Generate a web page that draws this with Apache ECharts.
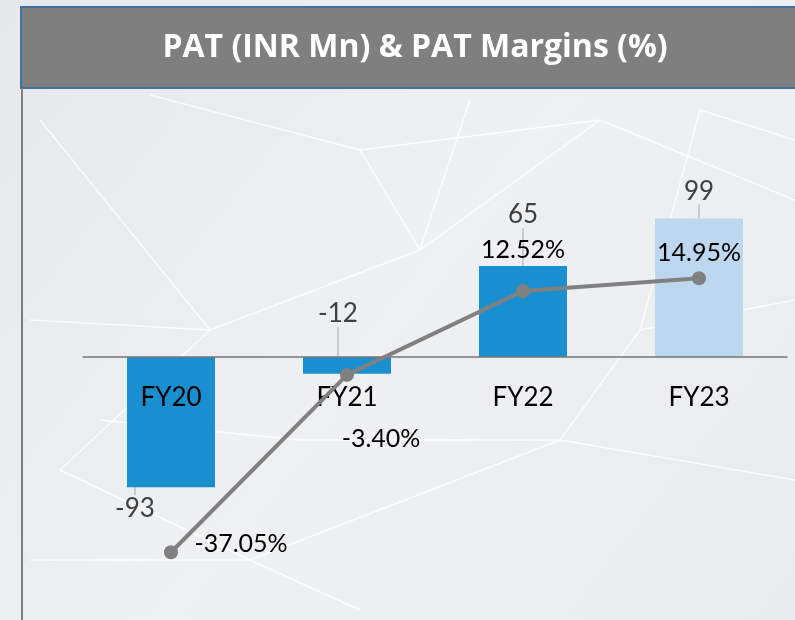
<!DOCTYPE html>
<html>
<head>
<meta charset="utf-8">
<script src="https://cdn.jsdelivr.net/npm/echarts@6/dist/echarts.min.js"></script>
<style>
  html, body { margin: 0; padding: 0; }
  #chart { width: 795px; height: 620px; }
</style>
</head>
<body>
<div id="chart"></div>
<script>
const categories = ['FY20', 'FY21', 'FY22', 'FY23']
const patValues = [-93, -12, 65, 99]
const marginValues = [-37.05, -3.40, 12.52, 14.95]

const FONT = 'Lato, "Noto Sans", sans-serif'

// label nudges (bar values / margin values)
const barLabelMove = [[-36, 8], [-9, -30], [0, -38], [0, -14]]
const lineLabelMove = [[70, -8], [34, 64], [0, -41], [0, -25]]

const chart = echarts.init(document.getElementById('chart'))

// faint network lines for the backdrop
function netLines() {
  const segs = [
    [[40, 120], [210, 330]], [[210, 330], [420, 250]], [[420, 250], [600, 120]],
    [[600, 120], [795, 200]], [[210, 330], [60, 470]], [[420, 250], [360, 150]],
    [[360, 150], [150, 95]], [[60, 470], [250, 560]], [[250, 560], [560, 440]],
    [[560, 440], [795, 480]], [[300, 440], [560, 440]], [[640, 330], [795, 300]],
    [[640, 330], [560, 440]], [[700, 110], [640, 330]], [[30, 560], [250, 560]],
    [[360, 150], [600, 120]], [[30, 320], [210, 330]], [[250, 560], [360, 610]],
    [[100, 420], [300, 440]], [[470, 100], [420, 250]], [[700, 110], [795, 140]]
  ]
  return segs.map(s => ({
    type: 'line', silent: true, z: -10,
    shape: {x1: s[0][0], y1: s[0][1], x2: s[1][0], y2: s[1][1]},
    style: {stroke: 'rgba(255,255,255,0.8)', lineWidth: 1.5}
  }))
}

const option = {
  backgroundColor: {
    type: 'linear', x: 0, y: 0, x2: 1, y2: 1,
    colorStops: [
      {offset: 0, color: '#e6e9ec'},
      {offset: 0.5, color: '#eef0f2'},
      {offset: 1, color: '#e9ecef'}
    ]
  },
  title: {
    text: 'PAT (INR Mn) & PAT Margins (%)',
    left: 410, top: 27, textAlign: 'center',
    textStyle: {color: '#ffffff', fontSize: 32, fontWeight: 'bold', fontFamily: '"Open Sans", Lato, sans-serif'}
  },
  graphic: [
    ...netLines(),
    {
      type: 'rect', z: -1, silent: true,
      shape: {x: 21, y: 7, width: 780, height: 81},
      style: {fill: '#7f7f7f', stroke: '#41719c', lineWidth: 2}
    },
    {
      type: 'line', silent: true,
      shape: {x1: 22, y1: 88, x2: 22, y2: 620},
      style: {stroke: '#7f7f7f', lineWidth: 2}
    }
  ],
  grid: {left: 83, right: 8, top: 97, bottom: 3, outerBoundsMode: 'none', containLabel: false},
  xAxis: {
    type: 'category',
    data: categories,
    position: 'bottom',
    offset: -260,
    z: 5,
    axisLine: {onZero: false, lineStyle: {color: '#767676', width: 1.5}},
    axisTick: {show: false},
    axisLabel: {margin: 28, color: '#000000', fontSize: 26, fontFamily: FONT}
  },
  yAxis: [
    {type: 'value', min: -185.7, max: 185.7, show: false, splitLine: {show: false}},
    {type: 'value', min: -49.34, max: 49.34, show: false, splitLine: {show: false}}
  ],
  series: [
    {
      name: 'PAT',
      type: 'bar',
      barWidth: '50%',
      yAxisIndex: 0,
      data: patValues.map((v, i) => ({
        value: v,
        itemStyle: {color: i === 3 ? '#bdd7ee' : '#1a8fd0'},
        label: {position: i === 0 ? 'bottom' : 'top'}
      })),
      label: {
        show: true, position: 'top', distance: 0,
        color: '#404040', fontSize: 26, fontFamily: FONT
      },
      labelLayout: p => ({dx: barLabelMove[p.dataIndex][0], dy: barLabelMove[p.dataIndex][1]}),
      labelLine: {show: true, lineStyle: {color: '#a6a6a6', width: 1}},
      z: 2
    },
    {
      name: 'PAT Margin',
      type: 'line',
      yAxisIndex: 1,
      data: marginValues,
      symbol: 'circle',
      symbolSize: 14,
      lineStyle: {color: '#808080', width: 4},
      itemStyle: {color: '#808080'},
      label: {
        show: true, position: 'inside',
        formatter: p => p.value.toFixed(2) + '%',
        color: '#000000', fontSize: 25, fontFamily: FONT
      },
      labelLayout: p => ({dx: lineLabelMove[p.dataIndex][0], dy: lineLabelMove[p.dataIndex][1]}),
      z: 6
    }
  ]
}

chart.setOption(option)
</script>
</body>
</html>
